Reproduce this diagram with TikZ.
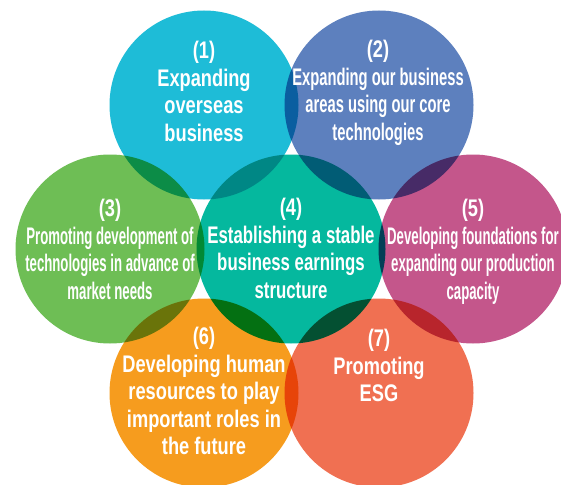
\documentclass[tikz,border=0pt]{standalone}
\usepackage{fontspec}
\newfontfamily\fA[FakeStretch=0.76]{Liberation Sans}
\newfontfamily\fB[FakeStretch=0.70]{Liberation Sans}
\newfontfamily\fC[FakeStretch=0.615]{Liberation Sans}
\newfontfamily\fD[FakeStretch=0.55]{Liberation Sans}
\definecolor{cA}{RGB}{30,188,215}
\definecolor{cB}{RGB}{93,128,190}
\definecolor{cC}{RGB}{110,190,85}
\definecolor{cD}{RGB}{5,184,158}
\definecolor{cE}{RGB}{196,86,139}
\definecolor{cF}{RGB}{246,156,30}
\definecolor{cG}{RGB}{240,112,82}
\begin{document}
\begin{tikzpicture}[x=1pt,y=-1pt,
  disc/.style={circle, inner sep=0pt, minimum size=189pt, fill=#1},
  txt/.style={text=white, align=center, anchor=north, inner sep=0pt,
    font=\fontsize{24}{27.6}\selectfont\bfseries#1}]
\useasboundingbox (0,0) rectangle (561,484);
\clip (0,0) rectangle (561,484);
\fill[white] (0,0) rectangle (561,484);
\begin{scope}[blend group=multiply]
\node[disc=cA] (c1) at (204,105) {};
\node[disc=cB] (c2) at (379,105) {};
\node[disc=cC] (c3) at (110,249) {};
\node[disc=cD] (c4) at (291,249) {};
\node[disc=cE] (c5) at (473,249) {};
\node[disc=cF] (c6) at (204,393) {};
\node[disc=cG] (c7) at (379,393) {};
\end{scope}
\node[txt=\fA] (t1) at (204,41) {(1)\\Expanding\\overseas\\business};
\node[txt=\fC] (t2) at (378,40) {{\fA(2)}\\Expanding our business\\areas using our core\\technologies};
\node[txt=\fD] (t3) at (110,199) {{\fA(3)}\\Promoting development of\\technologies in advance of\\market needs};
\node[txt=\fB] (t4) at (291,198) {{\fA(4)}\\Establishing a stable\\business earnings\\structure};
\node[txt=\fD] (t5) at (473,199) {{\fA(5)}\\Developing foundations for\\expanding our production\\capacity};
\node[txt=\fA] (t6) at (204,327) {(6)\\Developing human\\resources to play\\important roles in\\the future};
\node[txt=\fA] (t7) at (379,329) {(7)\\Promoting\\ESG};
\end{tikzpicture}
\end{document}
